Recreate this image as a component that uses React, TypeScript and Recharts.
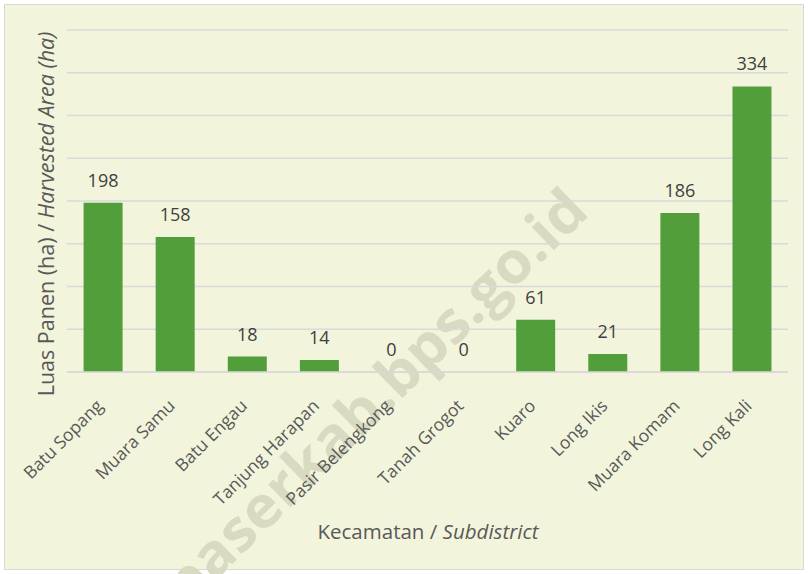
import React from 'react';
import { ComposedChart, Bar, Line, XAxis, YAxis, CartesianGrid, LabelList, Customized } from 'recharts';

const categories = ['Batu Sopang', 'Muara Samu', 'Batu Engau', 'Tanjung Harapan', 'Pasir Belengkong', 'Tanah Grogot', 'Kuaro', 'Long Ikis', 'Muara Komam', 'Long Kali'];
const values = [198, 158, 18, 14, 0, 0, 61, 21, 186, 334];
const yTicks = [0, 50, 100, 150, 200, 250, 300, 350, 400];

const data = categories.map((name, i) => ({ name, value: values[i] }));

const FONT = '"Open Sans", "Noto Sans", sans-serif';

const XTick = (props: any) => {
  const { x, y, payload } = props;
  const ax = x + 1;
  const ay = y + 27;
  return (
    <text
      x={ax}
      y={ay}
      transform={`rotate(-45, ${ax}, ${ay})`}
      textAnchor="end"
      fontSize={17.5}
      fontFamily={FONT}
      fill="#595959"
    >
      {payload.value}
    </text>
  );
};

const ValueLabel = (props: any) => {
  const { x, y, value } = props;
  return (
    <text
      x={x}
      y={y - 16}
      textAnchor="middle"
      fontSize={18}
      fontFamily={FONT}
      fill="#404040"
    >
      {value}
    </text>
  );
};

const Titles = () => (
  <g>
    <text x={428} y={539} textAnchor="middle" fontSize={20.5} fontFamily={FONT} fill="#595959">
      Kecamatan / <tspan fontStyle="italic">Subdistrict</tspan>
    </text>
    <text
      x={54}
      y={214}
      transform="rotate(-90, 54, 214)"
      textAnchor="middle"
      fontSize={21.5}
      fontFamily={FONT}
      fill="#595959"
    >
      Luas Panen (ha) / <tspan fontStyle="italic">Harvested Area (ha)</tspan>
    </text>
  </g>
);

export default function App() {
  return (
    <div style={{ position: 'absolute', left: 0, top: 0, width: 808, height: 574, background: '#ffffff', overflow: 'hidden' }}>
      <div
        style={{
          position: 'absolute',
          left: 4,
          top: 4,
          width: 798,
          height: 564,
          background: '#F2F5DC',
          border: '1px solid #D9D9D9',
        }}
      />
      <svg width={808} height={574} style={{ position: 'absolute', left: 0, top: 0 }}>
        <text
          x={378}
          y={400}
          transform="rotate(-44.3, 378, 400)"
          textAnchor="middle"
          dominantBaseline="middle"
          fontSize={58}
          fontWeight="bold"
          fontFamily={FONT}
          fill="#D8DBC2"
          textLength={565}
          lengthAdjust="spacingAndGlyphs"
        >
          paserkab.bps.go.id
        </text>
      </svg>
      <div style={{ position: 'absolute', left: 0, top: 0 }}>
        <ComposedChart
          width={808}
          height={574}
          data={data}
          margin={{ top: 30, right: 20, bottom: 0, left: 67 }}
          barCategoryGap="23%"
        >
          <CartesianGrid vertical={false} stroke="#D9D9D9" strokeWidth={1.5} />
          <YAxis hide domain={[0, 400]} ticks={yTicks} width={0} />
          <XAxis
            dataKey="name"
            axisLine={{ stroke: '#D9D9D9', strokeWidth: 1.5 }}
            tickLine={false}
            interval={0}
            tick={<XTick />}
            height={202}
          />
          <Bar dataKey="value" fill="#529E3A" isAnimationActive={false} />
          <Line
            dataKey="value"
            stroke="none"
            dot={false}
            activeDot={false}
            legendType="none"
            isAnimationActive={false}
          >
            <LabelList dataKey="value" content={<ValueLabel />} />
          </Line>
          <Customized component={Titles} />
        </ComposedChart>
      </div>
    </div>
  );
}
